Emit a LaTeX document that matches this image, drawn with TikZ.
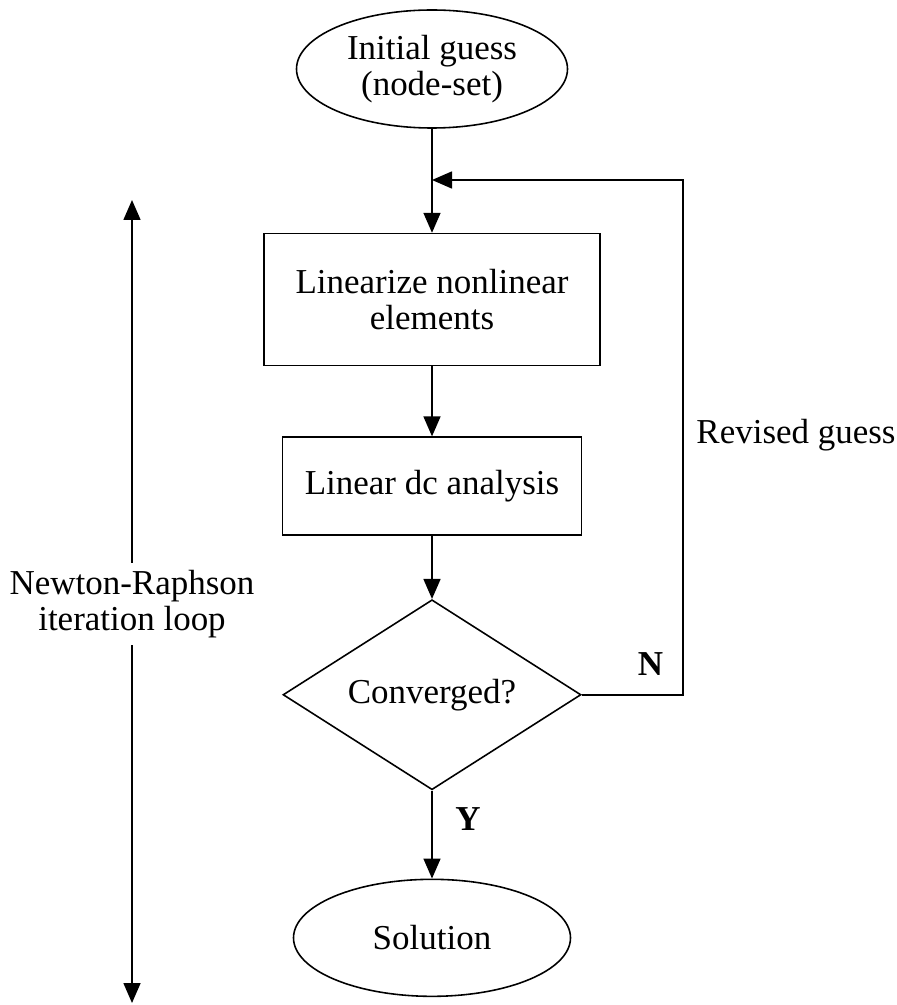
\documentclass[tikz,border=0pt]{standalone}
\usepackage{fontspec}
\setmainfont{Liberation Serif}
\usetikzlibrary{shapes.geometric, arrows.meta, positioning}

\begin{document}
\begin{tikzpicture}[
  node distance=1.4cm,
  every node/.style={font=\fontsize{19.9pt}{20.5pt}\selectfont},
  term/.style={ellipse, draw, line width=0.9pt, inner sep=1pt, align=center},
  box/.style={rectangle, draw, line width=0.9pt, align=center},
  decision/.style={diamond, draw, line width=0.9pt, aspect=1.57, inner sep=1pt, minimum width=5.96cm, minimum height=3.8cm},
  lbl/.style={inner sep=0pt, align=center},
  arrow/.style={-{Triangle[length=0.4cm, width=0.34cm]}, line width=0.9pt}
]
  \useasboundingbox (0,0) rectangle (17.92,-20.1);

  \node[term, minimum width=5.42cm, minimum height=2.36cm] (init) at (8.64,-1.38) {Initial guess\\(node-set)};
  \node[box, below=2.08cm of init, minimum width=6.72cm, minimum height=2.64cm] (lin) {Linearize nonlinear\\elements};
  \node[box, below=of lin, minimum width=5.98cm, minimum height=1.96cm] (dc) {Linear dc analysis};
  \node[decision, below=1.26cm of dc] (conv) {Converged?};
  \node[term, below=1.76cm of conv, minimum width=5.54cm, minimum height=2.34cm] (sol) {Solution};

  % feedback path
  \coordinate (merge) at (8.64,-3.6);
  \coordinate (back) at (13.66,0 |- merge);
  \node[lbl] (revised) at (15.92,-8.7) {Revised guess};

  % loop marker on the left
  \coordinate (looptop) at (2.64,-4.0);
  \coordinate (loopbot) at (2.64,-20.06);
  \node[align=center, inner sep=0.14cm] (loop) at (2.64,-12.08) {Newton-Raphson\\iteration loop};

  \draw[arrow] (init) -- (lin);
  \draw[arrow] (lin) -- (dc);
  \draw[arrow] (dc) -- (conv);
  \draw[arrow] (conv) -- node[lbl, pos=0.32, right=0.45cm, font=\fontsize{19.9pt}{20.5pt}\selectfont\bfseries] {Y} (sol);
  \draw[arrow] (conv.east) -| node[lbl, pos=0.34, above=0.36cm, font=\fontsize{19.9pt}{20.5pt}\selectfont\bfseries] {N} (back) -- (merge);
  \draw[arrow] (loop) -- (looptop);
  \draw[arrow] (loop) -- (loopbot);
\end{tikzpicture}
\end{document}
